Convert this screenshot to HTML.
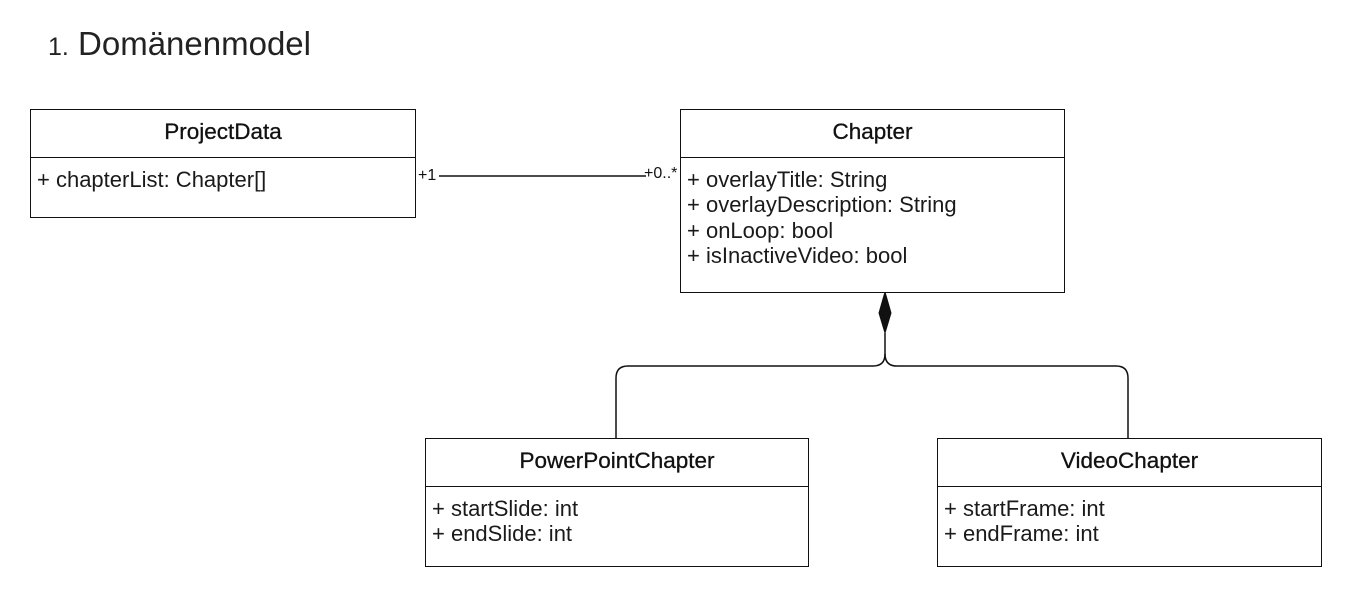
<!DOCTYPE html>
<html><head><meta charset="utf-8"><style>
body{margin:0;background:#fff;width:1368px;height:608px;overflow:hidden;font-family:"Liberation Sans",Arial,sans-serif;}
.t{position:absolute;left:48px;top:25px;font-size:33px;color:#222;white-space:nowrap;}
.t span{font-size:25px;}
.box{position:absolute;border:1.5px solid #111;box-sizing:border-box;background:#fff;}
.h{height:47px;border-bottom:1.5px solid #111;text-align:center;line-height:44px;font-size:22.5px;color:#111;white-space:nowrap;-webkit-text-stroke:0.3px #111;}
.a{padding:9px 0 0 6px;font-size:22px;line-height:25.3px;color:#1a1a1a;white-space:nowrap;}
.l{position:absolute;font-size:16px;color:#111;}
</style></head><body>
<div class="t"><span>1.</span> Domänenmodel</div>
<svg style="position:absolute;left:0;top:0" width="1368" height="608">
<line x1="439" y1="176" x2="646" y2="176" stroke="#111" stroke-width="1.5"/>
<path d="M885 292 L891 313 L885 333 L879 313 Z" fill="#111" stroke="#111"/>
<path d="M885 333 V354 Q885 366 873 366 H628 Q616 366 616 378 V438" fill="none" stroke="#111" stroke-width="1.5"/>
<path d="M885 354 Q885 366 897 366 H1116 Q1128 366 1128 378 V438" fill="none" stroke="#111" stroke-width="1.5"/>
</svg>
<div class="l" style="left:418px;top:167px">+1</div>
<div class="l" style="left:644px;top:165px">+0..*</div>
<div class="box" style="left:30px;top:109px;width:386px;height:109px"><div class="h">ProjectData</div><div class="a">+ chapterList: Chapter[]</div></div>
<div class="box" style="left:680px;top:109px;width:385px;height:184px"><div class="h">Chapter</div><div class="a">+ overlayTitle: String<br>+ overlayDescription: String<br>+ onLoop: bool<br>+ isInactiveVideo: bool</div></div>
<div class="box" style="left:425px;top:438px;width:384px;height:129px"><div class="h">PowerPointChapter</div><div class="a">+ startSlide: int<br>+ endSlide: int</div></div>
<div class="box" style="left:937px;top:438px;width:385px;height:129px"><div class="h">VideoChapter</div><div class="a">+ startFrame: int<br>+ endFrame: int</div></div>
</body></html>
